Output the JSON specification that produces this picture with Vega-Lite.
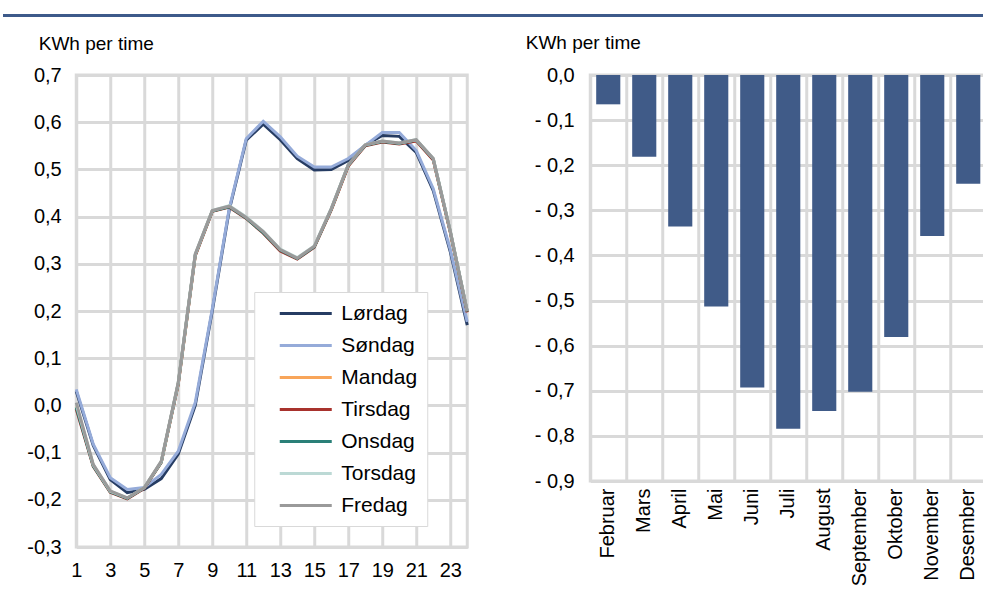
{
  "$schema": "https://vega.github.io/schema/vega-lite/v6.json",
  "background": "white",
  "padding": {"left": 3, "top": 9, "right": 0, "bottom": 0},
  "config": {
    "font": "Liberation Sans",
    "view": {"stroke": "#d9d9d9", "strokeWidth": 3},
    "axis": {
      "labelFontSize": 20,
      "labelColor": "#000000",
      "gridColor": "#d9d9d9",
      "gridWidth": 3,
      "ticks": false,
      "domain": false,
      "titleFontSize": 19,
      "titleFontWeight": "normal",
      "titleColor": "#000000"
    }
  },
  "datasets": {
    "lines": [
      {"hour": 1, "day": "Lørdag", "kwh": 0.03}, {"hour": 2, "day": "Lørdag", "kwh": -0.085}, {"hour": 3, "day": "Lørdag", "kwh": -0.157}, {"hour": 4, "day": "Lørdag", "kwh": -0.185},
      {"hour": 5, "day": "Lørdag", "kwh": -0.178}, {"hour": 6, "day": "Lørdag", "kwh": -0.155}, {"hour": 7, "day": "Lørdag", "kwh": -0.103}, {"hour": 8, "day": "Lørdag", "kwh": 0.0},
      {"hour": 9, "day": "Lørdag", "kwh": 0.2}, {"hour": 10, "day": "Lørdag", "kwh": 0.414}, {"hour": 11, "day": "Lørdag", "kwh": 0.562}, {"hour": 12, "day": "Lørdag", "kwh": 0.596},
      {"hour": 13, "day": "Lørdag", "kwh": 0.563}, {"hour": 14, "day": "Lørdag", "kwh": 0.523}, {"hour": 15, "day": "Lørdag", "kwh": 0.499}, {"hour": 16, "day": "Lørdag", "kwh": 0.5},
      {"hour": 17, "day": "Lørdag", "kwh": 0.519}, {"hour": 18, "day": "Lørdag", "kwh": 0.551}, {"hour": 19, "day": "Lørdag", "kwh": 0.572}, {"hour": 20, "day": "Lørdag", "kwh": 0.57},
      {"hour": 21, "day": "Lørdag", "kwh": 0.536}, {"hour": 22, "day": "Lørdag", "kwh": 0.455}, {"hour": 23, "day": "Lørdag", "kwh": 0.326}, {"hour": 24, "day": "Lørdag", "kwh": 0.17},

      {"hour": 1, "day": "Søndag", "kwh": 0.034}, {"hour": 2, "day": "Søndag", "kwh": -0.082}, {"hour": 3, "day": "Søndag", "kwh": -0.153}, {"hour": 4, "day": "Søndag", "kwh": -0.178},
      {"hour": 5, "day": "Søndag", "kwh": -0.174}, {"hour": 6, "day": "Søndag", "kwh": -0.146}, {"hour": 7, "day": "Søndag", "kwh": -0.097}, {"hour": 8, "day": "Søndag", "kwh": 0.006},
      {"hour": 9, "day": "Søndag", "kwh": 0.204}, {"hour": 10, "day": "Søndag", "kwh": 0.417}, {"hour": 11, "day": "Søndag", "kwh": 0.565}, {"hour": 12, "day": "Søndag", "kwh": 0.602},
      {"hour": 13, "day": "Søndag", "kwh": 0.569}, {"hour": 14, "day": "Søndag", "kwh": 0.528}, {"hour": 15, "day": "Søndag", "kwh": 0.505}, {"hour": 16, "day": "Søndag", "kwh": 0.505},
      {"hour": 17, "day": "Søndag", "kwh": 0.523}, {"hour": 18, "day": "Søndag", "kwh": 0.551}, {"hour": 19, "day": "Søndag", "kwh": 0.578}, {"hour": 20, "day": "Søndag", "kwh": 0.578},
      {"hour": 21, "day": "Søndag", "kwh": 0.54}, {"hour": 22, "day": "Søndag", "kwh": 0.459}, {"hour": 23, "day": "Søndag", "kwh": 0.33}, {"hour": 24, "day": "Søndag", "kwh": 0.177},

      {"hour": 1, "day": "Mandag", "kwh": 0.0}, {"hour": 2, "day": "Mandag", "kwh": -0.127}, {"hour": 3, "day": "Mandag", "kwh": -0.183}, {"hour": 4, "day": "Mandag", "kwh": -0.197},
      {"hour": 5, "day": "Mandag", "kwh": -0.175}, {"hour": 6, "day": "Mandag", "kwh": -0.12}, {"hour": 7, "day": "Mandag", "kwh": 0.046}, {"hour": 8, "day": "Mandag", "kwh": 0.318},
      {"hour": 9, "day": "Mandag", "kwh": 0.412}, {"hour": 10, "day": "Mandag", "kwh": 0.421}, {"hour": 11, "day": "Mandag", "kwh": 0.397}, {"hour": 12, "day": "Mandag", "kwh": 0.366},
      {"hour": 13, "day": "Mandag", "kwh": 0.328}, {"hour": 14, "day": "Mandag", "kwh": 0.311}, {"hour": 15, "day": "Mandag", "kwh": 0.336}, {"hour": 16, "day": "Mandag", "kwh": 0.415},
      {"hour": 17, "day": "Mandag", "kwh": 0.508}, {"hour": 18, "day": "Mandag", "kwh": 0.551}, {"hour": 19, "day": "Mandag", "kwh": 0.559}, {"hour": 20, "day": "Mandag", "kwh": 0.555},
      {"hour": 21, "day": "Mandag", "kwh": 0.561}, {"hour": 22, "day": "Mandag", "kwh": 0.521}, {"hour": 23, "day": "Mandag", "kwh": 0.368}, {"hour": 24, "day": "Mandag", "kwh": 0.198},

      {"hour": 1, "day": "Tirsdag", "kwh": -0.008}, {"hour": 2, "day": "Tirsdag", "kwh": -0.129}, {"hour": 3, "day": "Tirsdag", "kwh": -0.184}, {"hour": 4, "day": "Tirsdag", "kwh": -0.198},
      {"hour": 5, "day": "Tirsdag", "kwh": -0.176}, {"hour": 6, "day": "Tirsdag", "kwh": -0.121}, {"hour": 7, "day": "Tirsdag", "kwh": 0.045}, {"hour": 8, "day": "Tirsdag", "kwh": 0.317},
      {"hour": 9, "day": "Tirsdag", "kwh": 0.411}, {"hour": 10, "day": "Tirsdag", "kwh": 0.42}, {"hour": 11, "day": "Tirsdag", "kwh": 0.396}, {"hour": 12, "day": "Tirsdag", "kwh": 0.365},
      {"hour": 13, "day": "Tirsdag", "kwh": 0.327}, {"hour": 14, "day": "Tirsdag", "kwh": 0.31}, {"hour": 15, "day": "Tirsdag", "kwh": 0.335}, {"hour": 16, "day": "Tirsdag", "kwh": 0.414},
      {"hour": 17, "day": "Tirsdag", "kwh": 0.507}, {"hour": 18, "day": "Tirsdag", "kwh": 0.55}, {"hour": 19, "day": "Tirsdag", "kwh": 0.558}, {"hour": 20, "day": "Tirsdag", "kwh": 0.554},
      {"hour": 21, "day": "Tirsdag", "kwh": 0.56}, {"hour": 22, "day": "Tirsdag", "kwh": 0.52}, {"hour": 23, "day": "Tirsdag", "kwh": 0.367}, {"hour": 24, "day": "Tirsdag", "kwh": 0.197},

      {"hour": 1, "day": "Onsdag", "kwh": -0.004}, {"hour": 2, "day": "Onsdag", "kwh": -0.128}, {"hour": 3, "day": "Onsdag", "kwh": -0.183}, {"hour": 4, "day": "Onsdag", "kwh": -0.197},
      {"hour": 5, "day": "Onsdag", "kwh": -0.175}, {"hour": 6, "day": "Onsdag", "kwh": -0.12}, {"hour": 7, "day": "Onsdag", "kwh": 0.047}, {"hour": 8, "day": "Onsdag", "kwh": 0.319},
      {"hour": 9, "day": "Onsdag", "kwh": 0.412}, {"hour": 10, "day": "Onsdag", "kwh": 0.421}, {"hour": 11, "day": "Onsdag", "kwh": 0.397}, {"hour": 12, "day": "Onsdag", "kwh": 0.366},
      {"hour": 13, "day": "Onsdag", "kwh": 0.329}, {"hour": 14, "day": "Onsdag", "kwh": 0.311}, {"hour": 15, "day": "Onsdag", "kwh": 0.336}, {"hour": 16, "day": "Onsdag", "kwh": 0.416},
      {"hour": 17, "day": "Onsdag", "kwh": 0.509}, {"hour": 18, "day": "Onsdag", "kwh": 0.551}, {"hour": 19, "day": "Onsdag", "kwh": 0.559}, {"hour": 20, "day": "Onsdag", "kwh": 0.555},
      {"hour": 21, "day": "Onsdag", "kwh": 0.562}, {"hour": 22, "day": "Onsdag", "kwh": 0.522}, {"hour": 23, "day": "Onsdag", "kwh": 0.369}, {"hour": 24, "day": "Onsdag", "kwh": 0.199},

      {"hour": 1, "day": "Torsdag", "kwh": 0.002}, {"hour": 2, "day": "Torsdag", "kwh": -0.126}, {"hour": 3, "day": "Torsdag", "kwh": -0.182}, {"hour": 4, "day": "Torsdag", "kwh": -0.196},
      {"hour": 5, "day": "Torsdag", "kwh": -0.174}, {"hour": 6, "day": "Torsdag", "kwh": -0.119}, {"hour": 7, "day": "Torsdag", "kwh": 0.048}, {"hour": 8, "day": "Torsdag", "kwh": 0.32},
      {"hour": 9, "day": "Torsdag", "kwh": 0.413}, {"hour": 10, "day": "Torsdag", "kwh": 0.423}, {"hour": 11, "day": "Torsdag", "kwh": 0.399}, {"hour": 12, "day": "Torsdag", "kwh": 0.369},
      {"hour": 13, "day": "Torsdag", "kwh": 0.331}, {"hour": 14, "day": "Torsdag", "kwh": 0.313}, {"hour": 15, "day": "Torsdag", "kwh": 0.338}, {"hour": 16, "day": "Torsdag", "kwh": 0.417},
      {"hour": 17, "day": "Torsdag", "kwh": 0.51}, {"hour": 18, "day": "Torsdag", "kwh": 0.552}, {"hour": 19, "day": "Torsdag", "kwh": 0.56}, {"hour": 20, "day": "Torsdag", "kwh": 0.556},
      {"hour": 21, "day": "Torsdag", "kwh": 0.563}, {"hour": 22, "day": "Torsdag", "kwh": 0.523}, {"hour": 23, "day": "Torsdag", "kwh": 0.37}, {"hour": 24, "day": "Torsdag", "kwh": 0.2},

      {"hour": 1, "day": "Fredag", "kwh": 0.006}, {"hour": 2, "day": "Fredag", "kwh": -0.125}, {"hour": 3, "day": "Fredag", "kwh": -0.181}, {"hour": 4, "day": "Fredag", "kwh": -0.196},
      {"hour": 5, "day": "Fredag", "kwh": -0.174}, {"hour": 6, "day": "Fredag", "kwh": -0.118}, {"hour": 7, "day": "Fredag", "kwh": 0.049}, {"hour": 8, "day": "Fredag", "kwh": 0.321},
      {"hour": 9, "day": "Fredag", "kwh": 0.413}, {"hour": 10, "day": "Fredag", "kwh": 0.422}, {"hour": 11, "day": "Fredag", "kwh": 0.398}, {"hour": 12, "day": "Fredag", "kwh": 0.368},
      {"hour": 13, "day": "Fredag", "kwh": 0.33}, {"hour": 14, "day": "Fredag", "kwh": 0.312}, {"hour": 15, "day": "Fredag", "kwh": 0.337}, {"hour": 16, "day": "Fredag", "kwh": 0.417},
      {"hour": 17, "day": "Fredag", "kwh": 0.51}, {"hour": 18, "day": "Fredag", "kwh": 0.552}, {"hour": 19, "day": "Fredag", "kwh": 0.56}, {"hour": 20, "day": "Fredag", "kwh": 0.556},
      {"hour": 21, "day": "Fredag", "kwh": 0.563}, {"hour": 22, "day": "Fredag", "kwh": 0.523}, {"hour": 23, "day": "Fredag", "kwh": 0.37}, {"hour": 24, "day": "Fredag", "kwh": 0.2}
    ],
    "bars": [
      {"month": "Februar", "kwh": -0.065},
      {"month": "Mars", "kwh": -0.181},
      {"month": "April", "kwh": -0.336},
      {"month": "Mai", "kwh": -0.513},
      {"month": "Juni", "kwh": -0.693},
      {"month": "Juli", "kwh": -0.784},
      {"month": "August", "kwh": -0.745},
      {"month": "September", "kwh": -0.702},
      {"month": "Oktober", "kwh": -0.581},
      {"month": "November", "kwh": -0.357},
      {"month": "Desember", "kwh": -0.241}
    ]
  },
  "bounds": "full",
  "center": true,
  "spacing": 10,
  "resolve": {"scale": {"color": "independent"}, "legend": {"color": "independent"}},
  "vconcat": [
    {
      "width": 1058,
      "height": 3,
      "view": {"fill": "#3d5a8a", "stroke": null},
      "data": {"values": [{"t": ""}]},
      "mark": {"type": "text"},
      "encoding": {"text": {"field": "t"}}
    },
    {
      "bounds": "flush",
      "spacing": 123,
      "resolve": {"scale": {"color": "independent"}, "legend": {"color": "independent"}},
      "hconcat": [
        {
          "width": 391,
          "height": 472,
          "data": {"name": "lines"},
          "mark": {"type": "line", "strokeWidth": 3},
          "encoding": {
            "x": {
              "field": "hour",
              "type": "quantitative",
              "scale": {"domain": [1, 24], "nice": false, "zero": false},
              "axis": {
                "title": null,
                "values": [1, 3, 5, 7, 9, 11, 13, 15, 17, 19, 21, 23],
                "labelPadding": 13,
                "labelFlush": false
              }
            },
            "y": {
              "field": "kwh",
              "type": "quantitative",
              "scale": {"domain": [-0.3, 0.7], "nice": false, "zero": false},
              "axis": {
                "values": [-0.3, -0.2, -0.1, 0, 0.1, 0.2, 0.3, 0.4, 0.5, 0.6, 0.7],
                "labelExpr": "(datum.value < 0 ? '-' : '') + replace(format(abs(datum.value), '.1f'), '.', ',')",
                "labelPadding": 15,
                "title": "KWh per time",
                "titleAngle": 0,
                "titleAlign": "left",
                "titleBaseline": "middle",
                "titleX": -38,
                "titleY": -32
              }
            },
            "color": {
              "field": "day",
              "type": "nominal",
              "scale": {
                "domain": ["Lørdag", "Søndag", "Mandag", "Tirsdag", "Onsdag", "Torsdag", "Fredag"],
                "range": ["#263c63", "#95abd9", "#f8a55a", "#a8322d", "#2a8078", "#bcd9d5", "#9a9a9a"]
              },
              "legend": {
                "orient": "none",
                "legendX": 178,
                "legendY": 217,
                "title": null,
                "fillColor": "white",
                "strokeColor": "#d9d9d9",
                "padding": 10,
                "labelFontSize": 21,
                "labelColor": "#000000",
                "labelOffset": 54,
                "symbolType": "M0.4,0H5.6",
                "symbolSize": 400,
                "symbolStrokeWidth": 3,
                "rowPadding": 10
              }
            }
          }
        },
        {
          "width": 396,
          "height": 406,
          "data": {"name": "bars"},
          "mark": {"type": "bar", "color": "#405b88", "width": {"band": 0.67}},
          "encoding": {
            "x": {
              "field": "month",
              "type": "nominal",
              "sort": null,
              "scale": {"paddingInner": 0, "paddingOuter": 0},
              "axis": {
                "title": null,
                "grid": true,
                "bandPosition": 0,
                "labelOffset": 0,
                "labelAngle": -90,
                "labelAlign": "right",
                "labelBaseline": "middle",
                "labelPadding": 7
              }
            },
            "y": {
              "field": "kwh",
              "type": "quantitative",
              "scale": {"domain": [-0.9, 0], "nice": false},
              "axis": {
                "values": [-0.9, -0.8, -0.7, -0.6, -0.5, -0.4, -0.3, -0.2, -0.1, 0],
                "labelExpr": "(datum.value < 0 ? '-  ' : '') + replace(format(abs(datum.value), '.1f'), '.', ',')",
                "labelPadding": 16,
                "title": "KWh per time",
                "titleAngle": 0,
                "titleAlign": "left",
                "titleBaseline": "middle",
                "titleX": -65,
                "titleY": -33
              }
            }
          }
        }
      ]
    }
  ]
}
